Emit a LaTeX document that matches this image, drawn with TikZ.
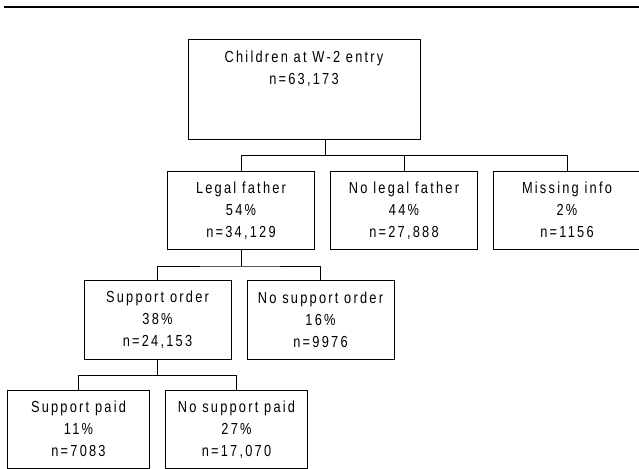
\documentclass[tikz,border=0pt]{standalone}
\usepackage{fontspec}
\setmainfont{Liberation Sans}[LetterSpace=14,FakeStretch=0.8]
\usetikzlibrary{positioning}

\tikzset{
  box/.style={draw, line width=1pt, align=center, minimum width=147pt,
    minimum height=78.5pt, inner sep=2pt},
  smallbox/.style={box, minimum width=142pt}
}

\begin{document}
\begin{tikzpicture}[x=1pt, y=1pt, node distance=30pt and 15pt,
    font=\fontsize{16}{22}\selectfont, line width=1pt]
  \useasboundingbox (0,0) rectangle (639,-468);
  \draw[line width=2.5pt] (4,-7) -- (639,-7);

  \node[box, minimum width=232pt, minimum height=99.5pt] (root) at (304,-89.75)
    {Children at W-2 entry\\ n=63,173\\ \mbox{}\\ \mbox{}};
  \node[box, below=30.5pt of root, xshift=-63pt] (lf) {Legal father\\ 54\%\\ n=34,129};
  \node[box, right=of lf] (nlf) {No legal father\\ 44\%\\ n=27,888};
  \node[box, right=of nlf] (mi) {Missing info\\ 2\%\\ n=1156};
  \node[box, below=of lf, xshift=-83.5pt] (so) {Support order\\ 38\%\\ n=24,153};
  \node[box, right=of so] (nso) {No support order\\ 16\%\\ n=9976};
  \node[smallbox, below=of so, xshift=-79pt] (sp) {Support paid\\ 11\%\\ n=7083};
  \node[smallbox, right=of sp] (nsp) {No support paid\\ 27\%\\ n=17,070};

  \path ([xshift=21pt]root.south) ++(0,-15.5) coordinate (top);
  \path (lf.south) ++(0,-16) coordinate (mid);
  \path (so.south) ++(0,-16) coordinate (low);

  \draw ([xshift=21pt]root.south) -- (top);
  \draw (lf.north) |- (top) -| (mi.north);
  \draw (nlf.north) -- (nlf.north |- top);
  \draw (lf.south) -- (mid);
  \draw (so.north) |- (mid) -| (nso.north);
  \draw (so.south) -- (low);
  \draw (sp.north) |- (low) -| (nsp.north);

\end{tikzpicture}
\end{document}
